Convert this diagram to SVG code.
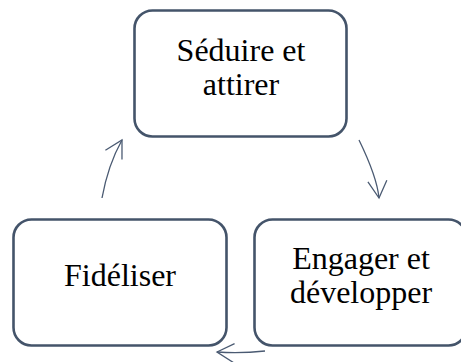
<svg xmlns="http://www.w3.org/2000/svg" width="461" height="362" viewBox="0 0 461 362">
<style>
.box{fill:#ffffff;stroke:#44546a;stroke-width:2.6}
.lbl{font-family:"Liberation Serif","Times New Roman",serif;font-size:32px;fill:#000000;text-anchor:middle}
.conn{fill:none;stroke:#4a5a72;stroke-width:1.3}
</style>
<defs>
<marker id="arr" markerUnits="userSpaceOnUse" markerWidth="24" markerHeight="24" viewBox="-20 -12 24 24" refX="0" refY="0" orient="auto">
<path d="M-17,-9.5 L0,0 L-17,9.5" fill="none" stroke="#4a5a72" stroke-width="1.3"/>
</marker>
</defs>
<rect width="461" height="362" fill="#ffffff"/>
<g id="connectors">
<path class="conn" d="M359,140 Q377,177 379,198" marker-end="url(#arr)"/>
<path class="conn" d="M265,351 Q241,353.5 217,352" marker-end="url(#arr)"/>
<path class="conn" d="M102,198 Q108,165 122,140" marker-end="url(#arr)"/>
</g>
<g id="node-seduire">
<rect class="box" x="134.5" y="10.5" width="212" height="126" rx="18" ry="18"/>
<text class="lbl" x="241" y="61">Séduire et</text>
<text class="lbl" x="241" y="95">attirer</text>
</g>
<g id="node-engager">
<rect class="box" x="254.5" y="219.5" width="212" height="126" rx="18" ry="18"/>
<text class="lbl" x="361" y="269">Engager et</text>
<text class="lbl" x="361" y="303">développer</text>
</g>
<g id="node-fideliser">
<rect class="box" x="13.5" y="219.5" width="213" height="126" rx="18" ry="18"/>
<text class="lbl" x="120" y="286">Fidéliser</text>
</g>
</svg>
